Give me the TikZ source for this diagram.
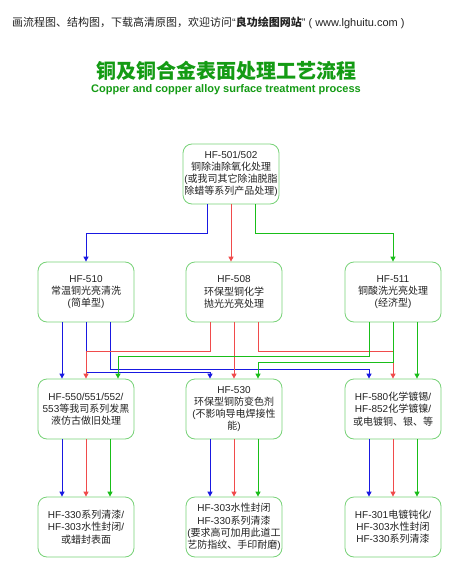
\documentclass[tikz,border=0pt]{standalone}
\usepackage{fontspec}
\setmainfont{Liberation Sans}
\newfontfamily\cjk{Noto Sans CJK SC}
\usetikzlibrary{arrows.meta}
\definecolor{lblue}{RGB}{25,25,225}
\definecolor{lred}{RGB}{240,75,75}
\definecolor{lgreen}{RGB}{25,190,25}
\definecolor{boxgreen}{RGB}{120,210,120}
\definecolor{titlegreen}{RGB}{20,155,20}
\definecolor{textc}{RGB}{35,35,35}
\newcommand\zh[1]{{\cjk #1}}
\begin{document}
\begin{tikzpicture}[x=1pt,y=-1pt,
  box/.style={draw=boxgreen, line width=0.8pt, rounded corners=9pt, minimum width=96pt, minimum height=60pt, align=center, inner sep=0pt, font=\fontsize{10}{12.2}\selectfont, text=textc},
  conn/.style={line width=1pt, -{Triangle[width=5pt,length=5pt]}},
  cb/.style={conn, draw=lblue},
  cr/.style={conn, draw=lred},
  cg/.style={conn, draw=lgreen}]
\useasboundingbox (0,0) rectangle (453,569);
\fill[white] (0,0) rectangle (453,569);

\node[anchor=west, font=\fontsize{11}{13}\selectfont, text=textc, inner sep=0pt] (hdr) at (12,23)
  {\zh{画流程图、结构图，下载高清原图，欢迎访问}“\zh{\bfseries 良功绘图网站}” ( www.lghuitu.com )};
\node[font={\cjk\bfseries\fontsize{20}{24}\selectfont}, text=titlegreen, inner sep=0pt] (title) at (226,71) {铜及铜合金表面处理工艺流程};
\node[font={\bfseries\fontsize{11}{13}\selectfont}, text=titlegreen, inner sep=0pt] (sub) at (226,90) {Copper and copper alloy surface treatment process};

\node[box] (top) at (231,174) {HF-501/502\\\zh{铜除油除氧化处理}\\(\zh{或我司其它除油脱脂}\\\zh{除蜡等系列产品处理})};

\node[box] (r2a) at (86,292) {HF-510\\\zh{常温铜光亮清洗}\\(\zh{简单型})};
\node[box] (r2b) at (234,292) {HF-508\\\zh{环保型铜化学}\\\zh{抛光光亮处理}};
\node[box] (r2c) at (393,292) {HF-511\\\zh{铜酸洗光亮处理}\\(\zh{经济型})};

\node[box] (r3a) at (86,409) {HF-550/551/552/\\553\zh{等我司系列发黑}\\\zh{液仿古做旧处理}};
\node[box] (r3b) at (234,409) {HF-530\\\zh{环保型铜防变色剂}\\(\zh{不影响导电焊接性}\\\zh{能})};
\node[box] (r3c) at (393,409) {HF-580\zh{化学镀锡}/\\HF-852\zh{化学镀镍}/\\\zh{或电镀铜、银、等}};

\node[box] (r4a) at (86,527) {HF-330\zh{系列清漆}/\\HF-303\zh{水性封闭}/\\\zh{或蜡封表面}};
\node[box] (r4b) at (234,527) {HF-303\zh{水性封闭}\\HF-330\zh{系列清漆}\\(\zh{要求高可加用此道工}\\\zh{艺防指纹、手印耐磨})};
\node[box] (r4c) at (393,527) {HF-301\zh{电镀钝化}/\\HF-303\zh{水性封闭}\\HF-330\zh{系列清漆}};

% top -> row 2
\draw[cb] ([xshift=-24pt]top.south) -- ++(0,29) -| (r2a.north);
\draw[cr] (top.south) -- (top.south |- r2b.north);
\draw[cg] ([xshift=24pt]top.south) -- ++(0,29) -| (r2c.north);

% row 2 -> row 3
\draw[cb] ([xshift=-24pt]r2a.south) -- ([xshift=-24pt]r3a.north);
\draw[cb] (r2a.south) -- ++(0,50) -| ([xshift=-24pt]r3b.north);
\draw[cb] ([xshift=24pt]r2a.south) -- ++(0,47) -| ([xshift=-24pt]r3c.north);
\draw[cr] ([xshift=-24pt]r2b.south) -- ++(0,29) -| (r3a.north);
\draw[cr] (r2b.south) -- (r3b.north);
\draw[cr] ([xshift=24pt]r2b.south) -- ++(0,29) -| (r3c.north);
\draw[cg] ([xshift=-24pt]r2c.south) -- ++(0,34) -| ([xshift=32pt]r3a.north);
\draw[cg] (r2c.south) -- ++(0,40) -| ([xshift=24pt]r3b.north);
\draw[cg] ([xshift=24pt]r2c.south) -- ([xshift=24pt]r3c.north);

% row 3 -> row 4
\foreach \s/\t in {r3a/r4a, r3b/r4b, r3c/r4c}{
  \draw[cb] ([xshift=-24pt]\s.south) -- ([xshift=-24pt]\t.north);
  \draw[cr] (\s.south) -- (\t.north);
  \draw[cg] ([xshift=24pt]\s.south) -- ([xshift=24pt]\t.north);
}
\end{tikzpicture}
\end{document}
